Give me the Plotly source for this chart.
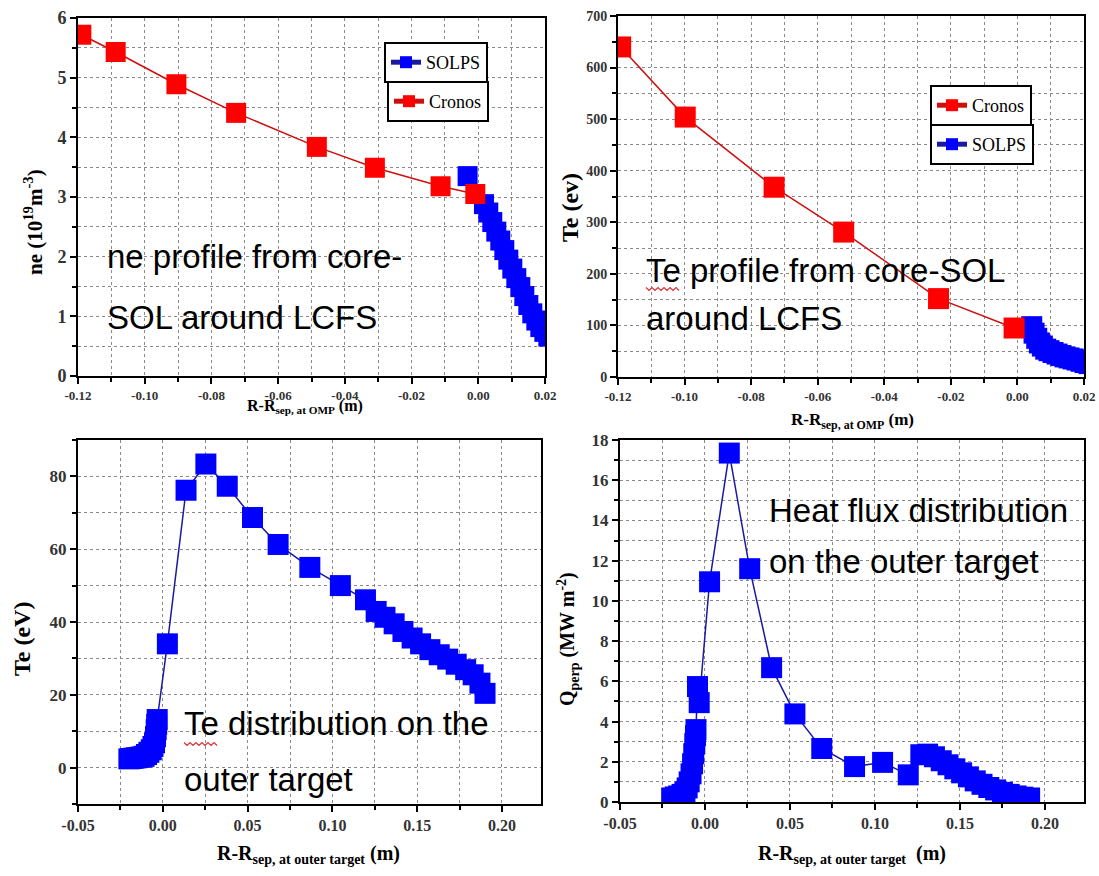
import plotly.graph_objects as go

W, H = 1099, 876

# ---------------- data ----------------
# Panel 1: ne profile at OMP
ne_cronos_x = [-0.1190, -0.1087, -0.0905, -0.0726, -0.0484, -0.0310, -0.0113, -0.0009]
ne_cronos_y = [5.72, 5.43, 4.89, 4.41, 3.84, 3.49, 3.18, 3.05]
ne_solps_x = [-0.0032, 0.0017, 0.0030, 0.0042, 0.0054, 0.0066, 0.0078, 0.0090, 0.0102,
              0.0114, 0.0126, 0.0138, 0.0150, 0.0162, 0.0174, 0.0186, 0.0198, 0.0210]
ne_solps_y = [3.35, 2.88, 2.74, 2.58, 2.42, 2.27, 2.11, 1.95, 1.80,
              1.64, 1.49, 1.34, 1.19, 1.05, 0.93, 0.82, 0.74, 0.66]

# Panel 2: Te profile at OMP
te_cronos_x = [-0.1192, -0.0998, -0.0731, -0.0522, -0.0237, -0.0010]
te_cronos_y = [640, 504, 368, 281, 152, 95]
te_solps_x = [0.0043, 0.0050, 0.0058, 0.0066, 0.0075, 0.0085, 0.0095, 0.0107, 0.0119,
              0.0131, 0.0143, 0.0155, 0.0167, 0.0179, 0.0191, 0.0203, 0.0215]
te_solps_y = [97.6, 85, 75, 66, 60, 54, 51, 47.5, 44.5,
              41.5, 39, 37, 35, 33, 30.5, 28, 26]

# Panel 3: Te on the outer target
tt_x = [-0.0200, -0.0185, -0.0170, -0.0155, -0.0140, -0.0125, -0.0110, -0.0096, -0.0082,
        -0.0068, -0.0058, -0.0049, -0.0043, -0.0039, -0.0036, -0.0033,
        0.0027, 0.0137, 0.0254, 0.0380, 0.0529, 0.0680, 0.0867, 0.1047, 0.1195,
        0.1258, 0.1310, 0.1364, 0.1416, 0.1470, 0.1520, 0.1575, 0.1630, 0.1680,
        0.1730, 0.1786, 0.1830, 0.1870, 0.1900]
tt_y = [2.4, 2.5, 2.6, 2.7, 2.8, 2.9, 3.1, 3.6, 4.2,
        4.9, 5.8, 6.8, 8.5, 10.4, 11.9, 13.2,
        34.0, 76.2, 83.4, 77.3, 68.7, 61.3, 55.0, 50.0, 46.1,
        42.9, 41.3, 39.5, 37.4, 35.6, 34.0, 32.4, 31.0, 29.8,
        28.4, 26.9, 25.5, 23.2, 20.4]

# Panel 4: Heat flux on the outer target
q_x = [-0.0196, -0.0175, -0.0155, -0.0135, -0.0118, -0.0105, -0.0093, -0.0082, -0.0073,
       -0.0066, -0.0060, -0.0056, -0.0053, -0.0044, -0.0034,
       0.0027, 0.0143, 0.0263, 0.0392, 0.0529, 0.0687, 0.0880, 0.1045, 0.1196,
       0.1270, 0.1310, 0.1350, 0.1390, 0.1430, 0.1470, 0.1510, 0.1550, 0.1590,
       0.1630, 0.1670, 0.1710, 0.1750, 0.1790, 0.1830, 0.1870, 0.1910]
q_y = [0.20, 0.25, 0.30, 0.38, 0.50, 0.70, 1.00, 1.40, 1.90,
       2.40, 2.90, 3.30, 3.60, 5.74, 4.94,
       10.95, 17.35, 11.60, 6.68, 4.38, 2.66, 1.76, 1.97, 1.35,
       2.35, 2.38, 2.25, 2.05, 1.85, 1.65, 1.45, 1.25, 1.05,
       0.88, 0.72, 0.60, 0.48, 0.38, 0.30, 0.24, 0.20]

# tick labels
omp_tickvals = [-0.12, -0.10, -0.08, -0.06, -0.04, -0.02, 0.00, 0.02]
omp_ticktext = ["-0.12", "-0.10", "-0.08", "-0.06", "-0.04", "-0.02", "0.00", "0.02"]
tgt_tickvals = [-0.05, 0.00, 0.05, 0.10, 0.15, 0.20]
tgt_ticktext = ["-0.05", "0.00", "0.05", "0.10", "0.15", "0.20"]

# ---------------- style ----------------
RED = "#ff0000"
REDLINE = "#cc1010"
BLUE = "#0000ff"
BLUELINE = "#1a1aa0"
SERIF = "Liberation Serif"
SANS = "Liberation Sans"
GRID = "#8a8a8a"


def px(x):
    return x / W


def py(y):
    return 1 - y / H


def xaxis(dom, rng, tv, tt, minor_dt, tsize, anchor):
    return dict(domain=dom, range=rng, anchor=anchor, tickmode="array", tickvals=tv, ticktext=tt,
                ticks="outside", ticklen=6, tickwidth=2, tickcolor="black",
                showline=True, linecolor="black", linewidth=2, mirror=True,
                showgrid=True, gridcolor=GRID, griddash="dot", gridwidth=1,
                zeroline=False, fixedrange=True, automargin=False,
                tickfont=dict(family=SERIF, size=tsize, color="#333", weight="bold"),
                minor=dict(tickmode="linear", tick0=0, dtick=minor_dt, ticks="outside",
                           ticklen=4, tickwidth=2, tickcolor="black",
                           showgrid=True, gridcolor=GRID, griddash="dot", gridwidth=1))


def yaxis(dom, rng, dt, minor_dt, tsize, anchor):
    return dict(domain=dom, range=rng, anchor=anchor, tickmode="linear", tick0=0, dtick=dt,
                ticks="outside", ticklen=6, tickwidth=2, tickcolor="black",
                showline=True, linecolor="black", linewidth=2, mirror=True,
                showgrid=True, gridcolor=GRID, griddash="dot", gridwidth=1,
                zeroline=False, fixedrange=True, automargin=False,
                tickfont=dict(family=SERIF, size=tsize, color="#333", weight="bold"),
                minor=dict(tickmode="linear", tick0=0, dtick=minor_dt, ticks="outside",
                           ticklen=4, tickwidth=2, tickcolor="black",
                           showgrid=True, gridcolor=GRID, griddash="dot", gridwidth=1))


def mirror_x(base, anchor, dom, rng, tv, minor_dt):
    # top axis with inward ticks (Origin style)
    return dict(overlaying=base, anchor=anchor, side="top", domain=dom, range=rng,
                tickmode="array", tickvals=tv, showticklabels=False,
                ticks="inside", ticklen=6, tickwidth=2, tickcolor="black",
                showline=False, showgrid=False, zeroline=False, fixedrange=True,
                automargin=False,
                minor=dict(tickmode="linear", tick0=0, dtick=minor_dt, ticks="inside",
                           ticklen=4, tickwidth=2, tickcolor="black", showgrid=False))


def mirror_y(base, anchor, dom, rng, dt, minor_dt):
    # right axis with inward ticks (Origin style)
    return dict(overlaying=base, anchor=anchor, side="right", domain=dom, range=rng,
                tickmode="linear", tick0=0, dtick=dt, showticklabels=False,
                ticks="inside", ticklen=6, tickwidth=2, tickcolor="black",
                showline=False, showgrid=False, zeroline=False, fixedrange=True,
                automargin=False,
                minor=dict(tickmode="linear", tick0=0, dtick=minor_dt, ticks="inside",
                           ticklen=4, tickwidth=2, tickcolor="black", showgrid=False))


fig = go.Figure()

# Panel 1
fig.add_trace(go.Scatter(x=ne_solps_x, y=ne_solps_y, mode="lines+markers", name="SOLPS",
                         line=dict(color=BLUELINE, width=1.5),
                         marker=dict(symbol="square", size=20, color=BLUE),
                         xaxis="x", yaxis="y", legend="legend"))
fig.add_trace(go.Scatter(x=ne_cronos_x, y=ne_cronos_y, mode="lines+markers", name="Cronos",
                         line=dict(color=REDLINE, width=1.5),
                         marker=dict(symbol="square", size=20, color=RED),
                         xaxis="x", yaxis="y", legend="legend2"))
# Panel 2
fig.add_trace(go.Scatter(x=te_solps_x, y=te_solps_y, mode="lines+markers", name="SOLPS",
                         line=dict(color=BLUELINE, width=1.5),
                         marker=dict(symbol="square", size=21, color=BLUE),
                         xaxis="x2", yaxis="y2", legend="legend4"))
fig.add_trace(go.Scatter(x=te_cronos_x, y=te_cronos_y, mode="lines+markers", name="Cronos",
                         line=dict(color=REDLINE, width=1.5),
                         marker=dict(symbol="square", size=21, color=RED),
                         xaxis="x2", yaxis="y2", legend="legend3"))
# Panel 3
fig.add_trace(go.Scatter(x=tt_x, y=tt_y, mode="lines+markers", showlegend=False,
                         line=dict(color=BLUELINE, width=1.5),
                         marker=dict(symbol="square", size=21, color=BLUE),
                         xaxis="x3", yaxis="y3"))
# Panel 4
fig.add_trace(go.Scatter(x=q_x, y=q_y, mode="lines+markers", showlegend=False,
                         line=dict(color=BLUELINE, width=1.5),
                         marker=dict(symbol="square", size=21, color=BLUE),
                         xaxis="x4", yaxis="y4"))

leg = dict(xanchor="left", yanchor="top", bgcolor="white", bordercolor="black",
           borderwidth=2, itemsizing="constant", itemwidth=30,
           font=dict(family=SERIF, size=18, color="black"))

d1x, d1y = [px(78), px(545)], [py(376), py(18)]
d2x, d2y = [px(618), px(1084)], [py(377), py(16)]
d3x, d3y = [px(78), px(541)], [py(804), py(440)]
d4x, d4y = [px(620), px(1084)], [py(802), py(440)]
r_omp = [-0.12, 0.02]
r_tgt = [-0.05, 0.223]

fig.update_layout(
    width=W, height=H, margin=dict(l=0, r=0, t=0, b=0, autoexpand=False),
    paper_bgcolor="white", plot_bgcolor="white",
    xaxis=xaxis(d1x, r_omp, omp_tickvals, omp_ticktext, 0.01, 13, "y"),
    yaxis=yaxis(d1y, [0, 6], 1, 0.5, 18, "x"),
    xaxis2=xaxis(d2x, r_omp, omp_tickvals, omp_ticktext, 0.01, 13, "y2"),
    yaxis2=yaxis(d2y, [0, 700], 100, 50, 14, "x2"),
    xaxis3=xaxis(d3x, r_tgt, tgt_tickvals, tgt_ticktext, 0.025, 16, "y3"),
    yaxis3=yaxis(d3y, [-10, 90], 20, 10, 17, "x3"),
    xaxis4=xaxis(d4x, r_tgt, tgt_tickvals, tgt_ticktext, 0.025, 16, "y4"),
    yaxis4=yaxis(d4y, [0, 18], 2, 1, 17, "x4"),
    xaxis5=mirror_x("x", "y", d1x, r_omp, omp_tickvals, 0.01),
    yaxis5=mirror_y("y", "x", d1y, [0, 6], 1, 0.5),
    xaxis6=mirror_x("x2", "y2", d2x, r_omp, omp_tickvals, 0.01),
    yaxis6=mirror_y("y2", "x2", d2y, [0, 700], 100, 50),
    xaxis7=mirror_x("x3", "y3", d3x, r_tgt, tgt_tickvals, 0.025),
    yaxis7=mirror_y("y3", "x3", d3y, [-10, 90], 20, 10),
    xaxis8=mirror_x("x4", "y4", d4x, r_tgt, tgt_tickvals, 0.025),
    yaxis8=mirror_y("y4", "x4", d4y, [0, 18], 2, 1),
    legend=dict(leg, x=px(384), y=py(42)),
    legend2=dict(leg, x=px(387), y=py(81)),
    legend3=dict(leg, x=px(930), y=py(85)),
    legend4=dict(leg, x=px(930), y=py(124)),
    showlegend=True,
)


def ann(text, x, y, size, family=SANS, angle=0, bold=False, xanchor="left"):
    fig.add_annotation(text=text, x=px(x), y=py(y), xref="paper", yref="paper",
                       showarrow=False, xanchor=xanchor, yanchor="middle",
                       textangle=angle,
                       font=dict(family=family, size=size, color="black",
                                 weight="bold" if bold else "normal"))


# in-plot captions
ann("ne profile from core-", 105, 256, 33)
ann("SOL around LCFS", 105, 317, 33)
ann("Te profile from core-SOL", 644, 270, 33)
ann("around LCFS", 644, 318, 33)
ann("Te distribution on the", 182, 723, 33)
ann("outer target", 182, 779, 33)
ann("Heat flux distribution", 767, 510, 33)
ann("on the outer target", 767, 561, 33)


# spell-check squiggles under "Te" (as seen in the slide)
def squiggle(x0, x1, y):
    pts = []
    x = x0
    up = True
    while x <= x1:
        pts.append((x, y - 1.5 if up else y + 1.5))
        up = not up
        x += 3
    path = "M " + " L ".join(f"{px(a):.5f},{py(b):.5f}" for a, b in pts)
    fig.add_shape(type="path", path=path, xref="paper", yref="paper",
                  line=dict(color="#e03030", width=1.2))


squiggle(646, 680, 289)
squiggle(184, 218, 744)

# axis titles
ann("ne (10<sup>19</sup>m<sup>-3</sup>)", 33, 222, 21, SERIF, -90, True, "center")
ann("R-R<sub>sep, at OMP</sub> (m)", 305, 406, 16, SERIF, 0, True, "center")
ann("Te (ev)", 570, 208, 24, SERIF, -90, True, "center")
ann("R-R<sub>sep, at OMP</sub> (m)", 852, 421, 17, SERIF, 0, True, "center")
ann("Te (eV)", 22, 639, 24, SERIF, -90, True, "center")
ann("R-R<sub>sep, at outer target</sub> (m)", 308, 854, 20, SERIF, 0, True, "center")
ann("Q<sub>perp</sub> (MW m<sup>-2</sup>)", 568, 639, 20, SERIF, -90, True, "center")
ann("R-R<sub>sep, at outer target</sub>  (m)", 852, 854, 20, SERIF, 0, True, "center")

fig.write_html("out.html", config={"displayModeBar": False},
               post_script="document.body.style.margin='0';document.body.style.overflow='hidden';")
